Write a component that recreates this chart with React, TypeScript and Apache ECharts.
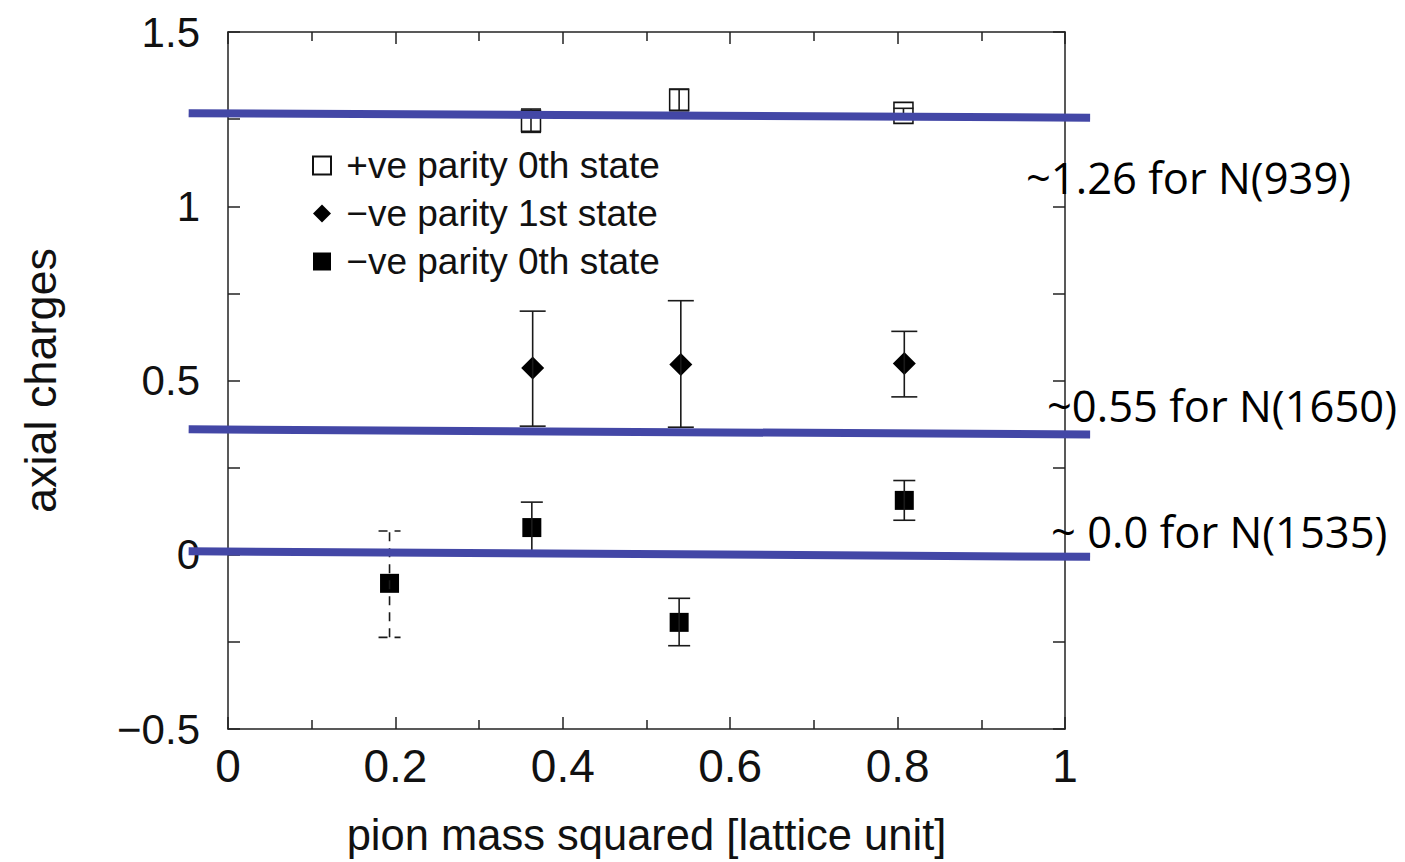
import React, { useEffect, useRef } from "react";
import * as echarts from "echarts";

// ---- data ----
const posParity0X = [0.362, 0.539, 0.807];
const posParity0Y = [1.245, 1.305, 1.268];
const posParity0Lo = [1.212, 1.274, 1.255];
const posParity0Hi = [1.279, 1.336, 1.281];

const negParity1X = [0.364, 0.541, 0.808];
const negParity1Y = [0.536, 0.546, 0.549];
const negParity1Lo = [0.369, 0.366, 0.453];
const negParity1Hi = [0.699, 0.729, 0.641];

const negParity0X = [0.193, 0.363, 0.539, 0.808];
const negParity0Y = [-0.082, 0.078, -0.194, 0.156];
const negParity0Lo = [-0.237, 0.005, -0.261, 0.099];
const negParity0Hi = [0.068, 0.151, -0.125, 0.213];
const negParity0Dashed = [1, 0, 0, 0];

const refLine1 = [[-0.047, 1.267], [1.03, 1.254]];
const refLine2 = [[-0.047, 0.36], [1.03, 0.345]];
const refLine3 = [[-0.047, 0.01], [1.03, -0.006]];

const seriesNames = ["+ve parity 0th state", "\u2212ve parity 1st state", "\u2212ve parity 0th state"];
const annotations = ["~1.26 for N(939)", "~0.55 for N(1650)", "~ 0.0 for N(1535)"];

const xTitle = "pion mass squared [lattice unit]";
const yTitle = "axial charges";

const FONT = "'Liberation Sans', Arial, Helvetica, sans-serif";
const ANNOT_FONT = "43.5px 'Open Sans', Lato, sans-serif";
const AXIS_COLOR = "#222";
const BLUE = "#4347a6";

function errorBars(xs: number[], lo: number[], hi: number[], capHalf: number, dashed?: number[]) {
  return {
    type: "custom",
    silent: true,
    z: 6,
    renderItem: (params: any, api: any) => {
      const x = api.value(0);
      const pLo = api.coord([x, api.value(1)]);
      const pHi = api.coord([x, api.value(2)]);
      const isDashed = api.value(3) === 1;
      const style: any = { stroke: "#1a1a1a", lineWidth: 1.6, fill: null };
      if (isDashed) style.lineDash = [9, 7];
      return {
        type: "group",
        children: [
          { type: "line", shape: { x1: pLo[0], y1: pLo[1], x2: pHi[0], y2: pHi[1] }, style },
          { type: "line", shape: { x1: pLo[0] - capHalf, y1: pLo[1], x2: pLo[0] + capHalf, y2: pLo[1] }, style },
          { type: "line", shape: { x1: pHi[0] - capHalf, y1: pHi[1], x2: pHi[0] + capHalf, y2: pHi[1] }, style },
        ],
      };
    },
    encode: { x: 0, y: [1, 2] },
    data: xs.map((x, i) => [x, lo[i], hi[i], dashed ? dashed[i] : 0]),
  };
}

function refLine(data: number[][]) {
  return {
    type: "custom",
    silent: true,
    clip: false,
    z: 10,
    renderItem: (params: any, api: any) => {
      if (params.dataIndex !== 0) return null;
      const p0 = api.coord(data[0]);
      const p1 = api.coord(data[1]);
      return {
        type: "line",
        shape: { x1: p0[0], y1: p0[1], x2: p1[0], y2: p1[1] },
        style: { stroke: BLUE, lineWidth: 8, lineCap: "butt" },
      };
    },
    encode: { x: 0, y: 1 },
    data,
  };
}

export default function App() {
  const ref = useRef<HTMLDivElement>(null);
  useEffect(() => {
    if (!ref.current) return;
    const chart = echarts.init(ref.current, undefined, { renderer: "svg" });
    const axisLine = { show: true, onZero: false, lineStyle: { color: AXIS_COLOR, width: 1.5 } };
    const tick = { show: true, inside: true, length: 12, lineStyle: { color: AXIS_COLOR, width: 1.5 } };
    const minorTick = { show: true, splitNumber: 2, length: 9, lineStyle: { color: AXIS_COLOR, width: 1.5 } };
    chart.setOption({
      animation: false,
      backgroundColor: "#fff",
      grid: { left: 228, right: 340, top: 32, bottom: 132, containLabel: false },
      legend: {
        data: seriesNames,
        orient: "vertical",
        left: 307,
        top: 142,
        itemWidth: 18,
        itemHeight: 18,
        itemGap: 11,
        formatter: (n: string) => " " + n,
        textStyle: { fontSize: 37, fontFamily: FONT, color: "#111" },
        selectedMode: false,
      },
      xAxis: [
        {
          type: "value", min: 0, max: 1, interval: 0.2, position: "bottom",
          axisLine, axisTick: tick, minorTick, splitLine: { show: false }, minorSplitLine: { show: false },
          axisLabel: {
            fontSize: 46, fontFamily: FONT, color: "#111", margin: 14,
            formatter: (v: number) => String(Math.round(v * 10) / 10),
          },
          name: xTitle, nameLocation: "middle", nameGap: 84,
          nameTextStyle: { fontSize: 43.5, fontFamily: FONT, color: "#111" },
        },
        {
          type: "value", min: 0, max: 1, interval: 0.2, position: "top",
          axisLine, axisTick: tick, minorTick, splitLine: { show: false },
          axisLabel: { show: false },
        },
      ],
      yAxis: [
        {
          type: "value", min: -0.5, max: 1.5, interval: 0.25, position: "left",
          axisLine, axisTick: tick, splitLine: { show: false },
          axisLabel: {
            fontSize: 42, fontFamily: FONT, color: "#111", margin: 28,
            formatter: (v: number) => {
              const r = Math.round(v * 100) / 100;
              if (Math.abs((r * 2) - Math.round(r * 2)) > 1e-6) return "";
              return r < 0 ? "\u2212" + String(-r) : String(r);
            },
          },
          name: yTitle, nameLocation: "middle", nameGap: 165,
          nameTextStyle: { fontSize: 45, fontFamily: FONT, color: "#111" },
        },
        {
          type: "value", min: -0.5, max: 1.5, interval: 0.25, position: "right",
          axisLine, axisTick: tick, splitLine: { show: false }, axisLabel: { show: false },
        },
      ],
      series: [
        {
          name: seriesNames[0], type: "scatter", symbol: "rect", symbolSize: [19, 21], z: 4,
          itemStyle: { color: "#fff", borderColor: "#111", borderWidth: 1.6, opacity: 1 },
          data: posParity0X.map((x, i) => [x, posParity0Y[i]]),
        },
        {
          name: seriesNames[1], type: "scatter", symbol: "diamond", symbolSize: [23, 23], z: 4,
          itemStyle: { color: "#000", opacity: 1 },
          data: negParity1X.map((x, i) => [x, negParity1Y[i]]),
        },
        {
          name: seriesNames[2], type: "scatter", symbol: "rect", symbolSize: [19, 19], z: 4,
          itemStyle: { color: "#000", opacity: 1 },
          data: negParity0X.map((x, i) => [x, negParity0Y[i]]),
        },
        errorBars(posParity0X, posParity0Lo, posParity0Hi, 10),
        errorBars(negParity1X, negParity1Lo, negParity1Hi, 13),
        errorBars(negParity0X, negParity0Lo, negParity0Hi, 11, negParity0Dashed),
        refLine(refLine1),
        refLine(refLine2),
        refLine(refLine3),
      ],
      graphic: [
        { type: "text", x: 1026, y: 177, z: 20, style: { text: annotations[0], font: ANNOT_FONT, fill: "#000", verticalAlign: "middle" } },
        { type: "text", x: 1047, y: 405, z: 20, style: { text: annotations[1], font: ANNOT_FONT, fill: "#000", verticalAlign: "middle" } },
        { type: "text", x: 1051, y: 531, z: 20, style: { text: annotations[2], font: ANNOT_FONT, fill: "#000", verticalAlign: "middle" } },
      ],
    });
    return () => chart.dispose();
  }, []);
  return (
    <div
      ref={ref}
      style={{ position: "absolute", left: 0, top: 0, width: 1405, height: 862, background: "#fff" }}
    />
  );
}
